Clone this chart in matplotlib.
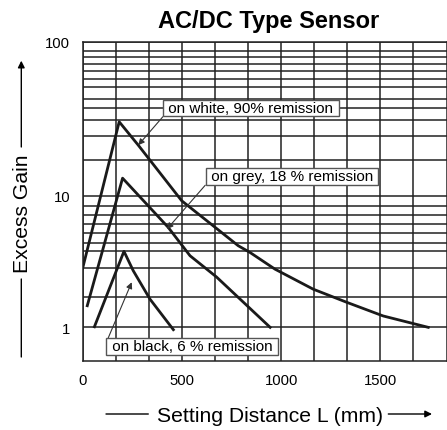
import numpy as np
import matplotlib.pyplot as plt
from matplotlib.ticker import FixedLocator, NullFormatter

plt.rcParams['font.family'] = ['Liberation Sans', 'DejaVu Sans']

# setting distance L (mm) and excess gain
white_L = [0, 184, 280, 499, 784, 843, 969, 1162, 1331, 1515, 1742]
white_G = [2.82, 30.2, 21.3, 9.16, 4.17, 3.71, 2.77, 1.95, 1.55, 1.22, 1.0]
grey_L = [23, 201, 431, 541, 675, 945]
grey_G = [1.46, 13.0, 5.75, 3.50, 2.41, 1.0]
black_L = [59, 208, 255, 339, 457]
black_G = [1.01, 3.78, 2.69, 1.64, 0.96]

labels = ['on white, 90% remission', 'on grey, 18 % remission', 'on black, 6 % remission']
arrow_tips = [(280, 21.3), (425, 5.58), (247, 2.2)]
box_pos = [(251, 322), (292, 253.5), (192, 83.5)]   # figure pixels
rel = [(0, 0), (0, 0), (0, 1)]

# the printed log grid is hand drawn: decade 1-10 is shorter than 10-100
low_w, up_w = 131.6, 154.0

def fwd(v):
    t = np.log10(np.clip(v, 1e-6, None))
    return np.where(t <= 1, t * low_w, low_w + (t - 1) * up_w)

def inv(s):
    s = np.asarray(s, dtype=float)
    return np.where(s <= low_w, 10 ** (s / low_w), 10 ** (1 + (s - low_w) / up_w))

grid_y = [1.7, 2.8, 3.8, 4.4, 5.2, 6.1, 7.1, 8.4,
          17, 24.5, 31, 37, 42.5, 51, 57, 65, 72, 79, 87.5]

fig = plt.figure(figsize=(4.47, 4.31), dpi=100)
ax = fig.add_axes([82.7/447, 69/431, (446.5-82.7)/447, (388.3-69)/431])

for L, G in [(white_L, white_G), (grey_L, grey_G), (black_L, black_G)]:
    ax.plot(L, G, color='#1a1a1a', lw=2.0, zorder=3)

ax.set_yscale('function', functions=(fwd, inv))
ax.set_xlim(0, 1834)
ax.set_ylim(0.555, 100)
ax.xaxis.set_major_locator(FixedLocator([0, 500, 1000, 1500]))
ax.xaxis.set_minor_locator(FixedLocator(np.arange(1, 11) * 500 / 3))
ax.yaxis.set_major_locator(FixedLocator([1, 10, 100]))
ax.yaxis.set_major_formatter(plt.FuncFormatter(lambda v, p: '%d' % v))
ax.yaxis.set_minor_locator(FixedLocator(grid_y))
ax.yaxis.set_minor_formatter(NullFormatter())
ax.grid(which='both', color='#222222', lw=1.1, zorder=1)
ax.tick_params(which='both', length=0, labelsize=10.7, pad=9)
for s in ax.spines.values():
    s.set_linewidth(1.1)
    s.set_color('#222222')

for lab, tip, pos, r in zip(labels, arrow_tips, box_pos, rel):
    ax.annotate(' ' + lab + ' ', xy=tip, xycoords='data', xytext=pos, textcoords='figure pixels',
                ha='center', va='center', fontsize=11, zorder=5,
                bbox=dict(boxstyle='square,pad=0.08', fc='white', ec='#555555', lw=1.0),
                arrowprops=dict(arrowstyle='-|>', color='#333333', lw=0.8,
                                mutation_scale=9, shrinkA=0, shrinkB=0, relpos=r))

fig.text(268.8/447, 402.7/431, 'AC/DC Type Sensor', ha='center', va='baseline',
         fontsize=17, fontweight='bold')

# x axis label with arrow lines
fig.text(270/447, 9.3/431, 'Setting Distance L (mm)', ha='center', va='baseline', fontsize=15.2)
ax.annotate('', xy=(148.3, 16), xytext=(106, 16), xycoords='figure pixels',
            arrowprops=dict(arrowstyle='-', color='black', lw=1.0, shrinkA=0, shrinkB=0))
ax.annotate('', xy=(432, 16), xytext=(388.3, 16), xycoords='figure pixels',
            arrowprops=dict(arrowstyle='-|>', color='black', lw=1.0, mutation_scale=10,
                            shrinkA=0, shrinkB=0))

# y axis label with arrow lines
fig.text(22.6/447, 217/431, 'Excess Gain', ha='center', va='center', fontsize=15.2, rotation=90)
ax.annotate('', xy=(21.3, 151), xytext=(21.3, 73), xycoords='figure pixels',
            arrowprops=dict(arrowstyle='-', color='black', lw=1.0, shrinkA=0, shrinkB=0))
ax.annotate('', xy=(21.3, 369.3), xytext=(21.3, 283), xycoords='figure pixels',
            arrowprops=dict(arrowstyle='-|>', color='black', lw=1.0, mutation_scale=10,
                            shrinkA=0, shrinkB=0))

fig.savefig('out.png', dpi=100)
